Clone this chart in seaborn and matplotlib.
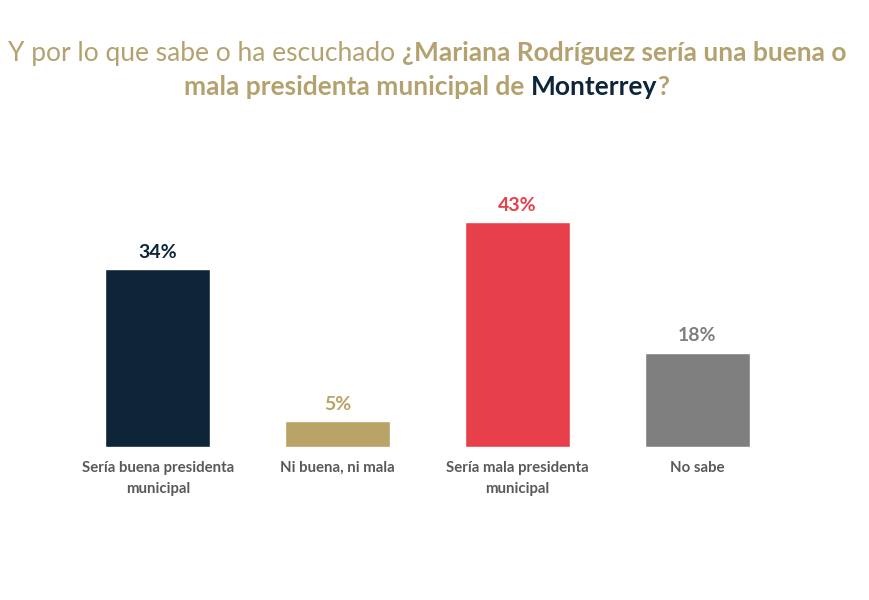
import matplotlib
matplotlib.use("Agg")
import matplotlib.pyplot as plt
import seaborn as sns
import pandas as pd

categories = ["Sería buena presidenta\nmunicipal", "Ni buena, ni mala",
              "Sería mala presidenta\nmunicipal", "No sabe"]
values = [34, 5, 43, 18]
labels = ["34%", "5%", "43%", "18%"]
colors = ["#0E2439", "#B9A366", "#E8404A", "#7F7F7F"]

GOLD = "#B4A26E"
NAVY = "#0E2439"
FONT = "Lato"


def draw_line(fig, renderer, pieces, y, size, cx=427):
    # pieces: list of (text, weight, color); drawn side by side, centred on cx (px)
    texts = []
    for s, w, c in pieces:
        t = fig.text(0, y, s, fontsize=size, fontweight=w, color=c,
                     family=FONT, ha="left", va="baseline")
        texts.append(t)
    widths = [t.get_window_extent(renderer).width for t in texts]
    total = sum(widths)
    x = cx - total / 2
    for t, w in zip(texts, widths):
        t.set_x(x / fig.bbox.width)
        x += w


def main():
    sns.set_theme(style="white")
    plt.rcParams["font.family"] = [FONT, "DejaVu Sans"]

    df = pd.DataFrame({"cat": categories, "val": values})

    fig = plt.figure(figsize=(8.7, 6), dpi=100)
    ax = fig.add_axes([0.078, 0.255, 0.827, 0.436])
    sns.barplot(data=df, x="cat", y="val", hue="cat", palette=colors,
                width=0.585, legend=False, ax=ax, saturation=1)
    ax.set_ylim(0, 50)
    ax.set_xlim(-0.5, 3.5)
    ax.set_xlabel("")
    ax.set_ylabel("")
    ax.set_yticks([])
    sns.despine(ax=ax, left=True, bottom=True)
    ax.tick_params(axis="x", length=0, pad=10)
    for lbl in ax.get_xticklabels():
        lbl.set_fontsize(10.8)
        lbl.set_fontweight("bold")
        lbl.set_color("#595959")
        lbl.set_linespacing(1.65)

    for i, (v, s) in enumerate(zip(values, labels)):
        ax.annotate(s, (i, v), xytext=(0, 6), textcoords="offset points",
                    ha="center", va="bottom", fontsize=14, fontweight="bold",
                    color=colors[i])

    renderer = fig.canvas.get_renderer()
    draw_line(fig, renderer, [
        ("Y por lo que sabe o ha escuchado ", "normal", GOLD),
        ("¿Mariana Rodríguez sería una buena o", "bold", GOLD),
    ], 1 - 61 / 600, 19)
    draw_line(fig, renderer, [
        ("mala presidenta municipal de ", "bold", GOLD),
        ("Monterrey", "bold", NAVY),
        ("?", "bold", GOLD),
    ], 1 - 95 / 600, 19)

    fig.savefig("out.png", dpi=100)
    plt.close(fig)


if __name__ == "__main__":
    main()
